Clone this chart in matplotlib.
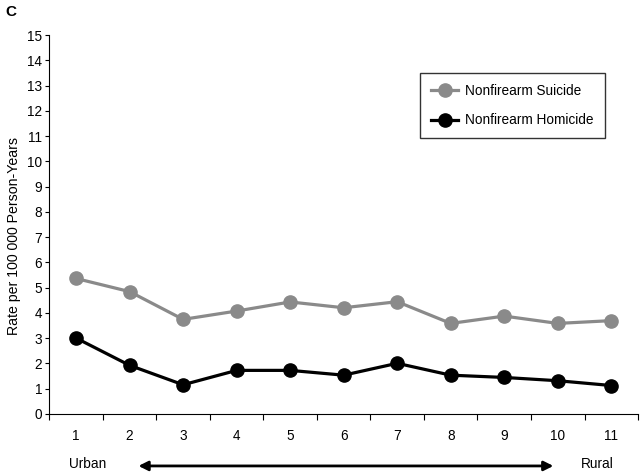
import numpy as np
import matplotlib.pyplot as plt

plt.rcParams['font.family'] = ['Liberation Sans', 'DejaVu Sans']

categories = [1, 2, 3, 4, 5, 6, 7, 8, 9, 10, 11]
suicide = [5.36, 4.84, 3.74, 4.07, 4.43, 4.20, 4.44, 3.58, 3.87, 3.58, 3.69]
homicide = [3.0, 1.92, 1.15, 1.72, 1.72, 1.53, 2.0, 1.53, 1.44, 1.31, 1.12]

fs = 9.8

fig = plt.figure(figsize=(6.4, 4.74), dpi=100)
ax = fig.add_axes([0.077, 0.127, 0.92, 0.799])

ax.plot(categories, suicide, color='#8a8a8a', lw=2.3, marker='o', ms=9.5,
        label='Nonfirearm Suicide')
ax.plot(categories, homicide, color='black', lw=2.3, marker='o', ms=9.5,
        label='Nonfirearm Homicide')

ax.set_xlim(0.5, 11.5)
ax.set_ylim(0, 15)
ax.set_yticks(range(0, 16))
ax.set_xticks(np.arange(0.5, 12, 1))
ax.set_xticklabels([])
ax.set_xticks(categories, minor=True)
ax.set_xticklabels([str(c) for c in categories], minor=True)
ax.tick_params(axis='x', which='minor', length=0, pad=11, labelsize=fs)
ax.tick_params(axis='x', which='major', length=4, direction='out')
ax.tick_params(axis='y', length=3, direction='out', labelsize=fs, pad=2)

for s in ['top', 'right']:
    ax.spines[s].set_visible(False)

ax.set_ylabel('Rate per 100 000 Person-Years', fontsize=fs + 0.4)
ax.yaxis.set_label_coords(-0.048, 0.47)

leg = ax.legend(loc='upper left', bbox_to_anchor=(0.63, 0.90), fontsize=fs,
                frameon=True, fancybox=False, edgecolor='black',
                borderaxespad=0, borderpad=0.8, labelspacing=1.15,
                handlelength=2.0, handletextpad=0.5)
leg.get_frame().set_linewidth(1.0)

fig.text(0.008, 0.99, 'C', fontsize=11, fontweight='bold', va='top', ha='left')
fig.text(0.137, 0.022, 'Urban', fontsize=fs, ha='center', va='center')
fig.text(0.933, 0.022, 'Rural', fontsize=fs, ha='center', va='center')
fig.add_artist(plt.matplotlib.patches.FancyArrowPatch(
    (0.212, 0.017), (0.869, 0.017), transform=fig.transFigure,
    arrowstyle='<|-|>', mutation_scale=14, lw=2.0, color='black'))

fig.savefig('out.png', dpi=100)
